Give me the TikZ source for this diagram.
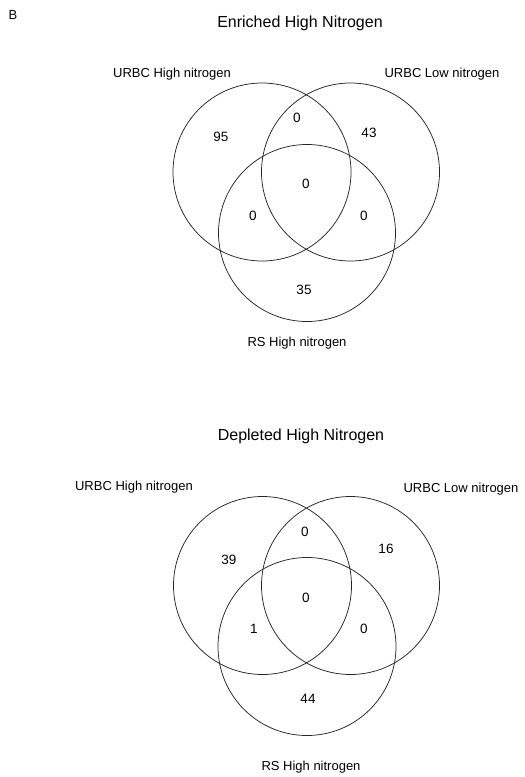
\documentclass[tikz,border=0pt]{standalone}
\usepackage{fontspec}
\setmainfont{Liberation Sans}
\begin{document}
\begin{tikzpicture}[x=1pt,y=-1pt,
  setc/.style={draw=black!85, line width=0.75pt, circle, minimum size=#1, inner sep=0pt},
  ttl/.style={anchor=base, font=\fontsize{16}{18}\selectfont},
  lbl/.style={anchor=base, font=\fontsize{13}{15}\selectfont},
  num/.style={font=\fontsize{13.5}{15}\selectfont, inner sep=0pt}]
\useasboundingbox (0,0) rectangle (525,777);
\node[lbl] (B) at (13,19) {B};
% top diagram
\node[ttl] (t1) at (300,27.3) {Enriched High Nitrogen};
\node[setc=178pt] (a1) at (262,172) {};
\node[setc=178pt] (b1) at (350.5,172) {};
\node[setc=177pt] (c1) at (307,233) {};
\node[lbl] (la1) at (172,77) {URBC High nitrogen};
\node[lbl] (lb1) at (442,77) {URBC Low nitrogen};
\node[lbl] (lc1) at (297,346) {RS High nitrogen};
\node[num] (n1a) at (221,137) {95};
\node[num] (n1b) at (369,133) {43};
\node[num] (n1c) at (304,290) {35};
\node[num] (n1ab) at (297,118) {0};
\node[num] (n1ac) at (253,216) {0};
\node[num] (n1bc) at (364,216) {0};
\node[num] (n1abc) at (306,184) {0};
% bottom diagram
\node[ttl] (t2) at (301,440) {Depleted High Nitrogen};
\node[setc=178pt] (a2) at (262.5,585.5) {};
\node[setc=178pt] (b2) at (350.5,585.5) {};
\node[setc=178pt] (c2) at (307,646.5) {};
\node[lbl] (la2) at (134,490) {URBC High nitrogen};
\node[lbl] (lb2) at (461,492.7) {URBC Low nitrogen};
\node[lbl] (lc2) at (311,770.7) {RS High nitrogen};
\node[num] (n2a) at (229,560) {39};
\node[num] (n2b) at (386,549) {16};
\node[num] (n2c) at (308,699) {44};
\node[num] (n2ab) at (305,532) {0};
\node[num] (n2ac) at (254,629) {1};
\node[num] (n2bc) at (364,629) {0};
\node[num] (n2abc) at (306,598) {0};
\end{tikzpicture}
\end{document}
